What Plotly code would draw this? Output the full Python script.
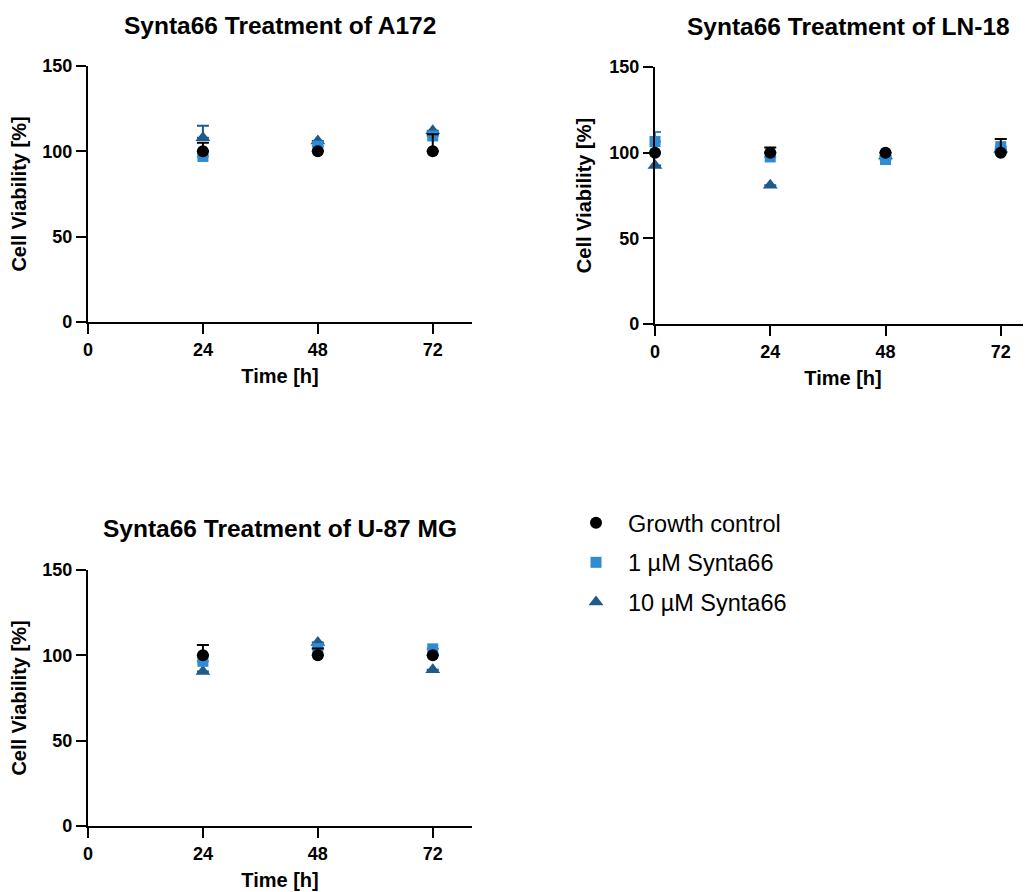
import plotly.graph_objects as go

# ---- data ----
x_tick_vals = [0, 24, 48, 72]
y_tick_vals = [0, 50, 100, 150]

series_names = ["Growth control", "1 µM Synta66", "10 µM Synta66"]

# A172 (no 0 h measurement)
a172_time = [24, 48, 72]
a172_control = [100, 100, 100]
a172_control_err = [5, 0, 10]
a172_1um = [97, 103, 109]
a172_1um_err = [0, 0, 0]
a172_10um = [108, 106, 112]
a172_10um_err = [7, 0, 0]

# LN-18
ln18_time = [0, 24, 48, 72]
ln18_control = [100, 100, 100, 100]
ln18_control_err = [0, 3, 0, 8]
ln18_1um = [106.5, 97.5, 96, 103.5]
ln18_1um_err = [5.5, 0, 0, 0]
ln18_10um = [92.5, 81, 98, 102]
ln18_10um_err = [0, 0, 0, 0]

# U-87 MG
u87_time = [24, 48, 72]
u87_control = [100, 100, 100]
u87_control_err = [6, 4, 0]
u87_1um = [96.5, 104, 103.8]
u87_1um_err = [0, 0, 0]
u87_10um = [90.5, 107.5, 91.5]
u87_10um_err = [0, 0, 0]

panel_titles = ["Synta66 Treatment of A172", "Synta66 Treatment of LN-18",
                "Synta66 Treatment of U-87 MG"]

# ---- styling ----
FONT = "Arial, 'Liberation Sans', Helvetica, sans-serif"
colors = ["#000000", "#2F8BD2", "#1C5B8A"]
symbols = ["circle", "square", "triangle-up"]
sizes = [12, 11, 13]

# page body has an 8px margin; work in window pixels and convert
OFF = 8
W, H = 1031 - OFF, 892 - OFF

def fx(px):
    return (px - OFF) / W

def fy(py):
    return 1 - (py - OFF) / H

def px_x(a, b):
    return [fx(a), min(1.0, fx(b))]

def px_y(top, bottom):
    return [fy(bottom), fy(top)]

panels = [
    dict(t=a172_time, vals=[a172_control, a172_1um, a172_10um],
         errs=[a172_control_err, a172_1um_err, a172_10um_err],
         xd=px_x(88, 472), yd=px_y(66, 322), xr=[0, 80.2]),
    dict(t=ln18_time, vals=[ln18_control, ln18_1um, ln18_10um],
         errs=[ln18_control_err, ln18_1um_err, ln18_10um_err],
         xd=px_x(655, 1031), yd=px_y(67, 324), xr=[0, 78.3]),
    dict(t=u87_time, vals=[u87_control, u87_1um, u87_10um],
         errs=[u87_control_err, u87_1um_err, u87_10um_err],
         xd=px_x(88, 472), yd=px_y(570, 826), xr=[0, 80.2]),
]

fig = go.Figure()

# draw order: triangle (bottom), square, circle (top)
for pi, p in enumerate(panels):
    xa = "x" if pi == 0 else f"x{pi+1}"
    ya = "y" if pi == 0 else f"y{pi+1}"
    for si in [2, 1, 0]:
        fig.add_trace(go.Scatter(
            x=p["t"], y=p["vals"][si], mode="markers",
            name=series_names[si], legendgroup=f"g{si}", legendrank=si + 1,
            showlegend=(pi == 0),
            marker=dict(symbol=symbols[si], size=sizes[si], color=colors[si],
                        line=dict(width=0)),
            error_y=dict(type="data", symmetric=False, array=p["errs"][si],
                         arrayminus=[0] * len(p["t"]), color=colors[si],
                         thickness=2, width=6),
            cliponaxis=False,
            xaxis=xa, yaxis=ya,
        ))

axis_common = dict(showline=True, linecolor="black", linewidth=2.2,
                   ticks="outside", ticklen=10, tickwidth=2.2, tickcolor="black",
                   showgrid=False, zeroline=False, mirror=False, automargin=False,
                   tickfont=dict(family=FONT, size=18, color="black", weight="bold"))

layout = dict(width=W, height=H, margin=dict(l=0, r=0, t=0, b=0),
              plot_bgcolor="rgba(0,0,0,0)", paper_bgcolor="white",
              font=dict(family=FONT, color="black"))

for pi, p in enumerate(panels):
    sx = "" if pi == 0 else str(pi + 1)
    layout[f"xaxis{sx}"] = dict(
        axis_common, domain=p["xd"], range=p["xr"], tickvals=x_tick_vals,
        anchor=f"y{sx}",
        title=dict(text="Time [h]", standoff=10,
                   font=dict(family=FONT, size=20, color="black", weight="bold")))
    layout[f"yaxis{sx}"] = dict(
        axis_common, domain=p["yd"], range=[0, 150], tickvals=y_tick_vals,
        anchor=f"x{sx}",
        title=dict(text="Cell Viability [%]", standoff=12,
                   font=dict(family=FONT, size=20, color="black", weight="bold")))

fig.update_layout(**layout)

# panel titles
title_pos = [(280, 25), (848, 26), (280, 528)]
for (cx, cy), txt in zip(title_pos, panel_titles):
    fig.add_annotation(text=txt, xref="paper", yref="paper",
                       x=fx(cx), y=fy(cy), showarrow=False,
                       xanchor="center", yanchor="middle",
                       font=dict(family=FONT, size=24.5, color="black", weight="bold"))

fig.update_layout(
    legend=dict(x=fx(564), y=fy(501), xanchor="left", yanchor="top",
                traceorder="grouped", tracegroupgap=6, itemwidth=54,
                font=dict(family=FONT, size=23.5, color="black"),
                bgcolor="rgba(0,0,0,0)"),
)

fig.write_html("out.html")
